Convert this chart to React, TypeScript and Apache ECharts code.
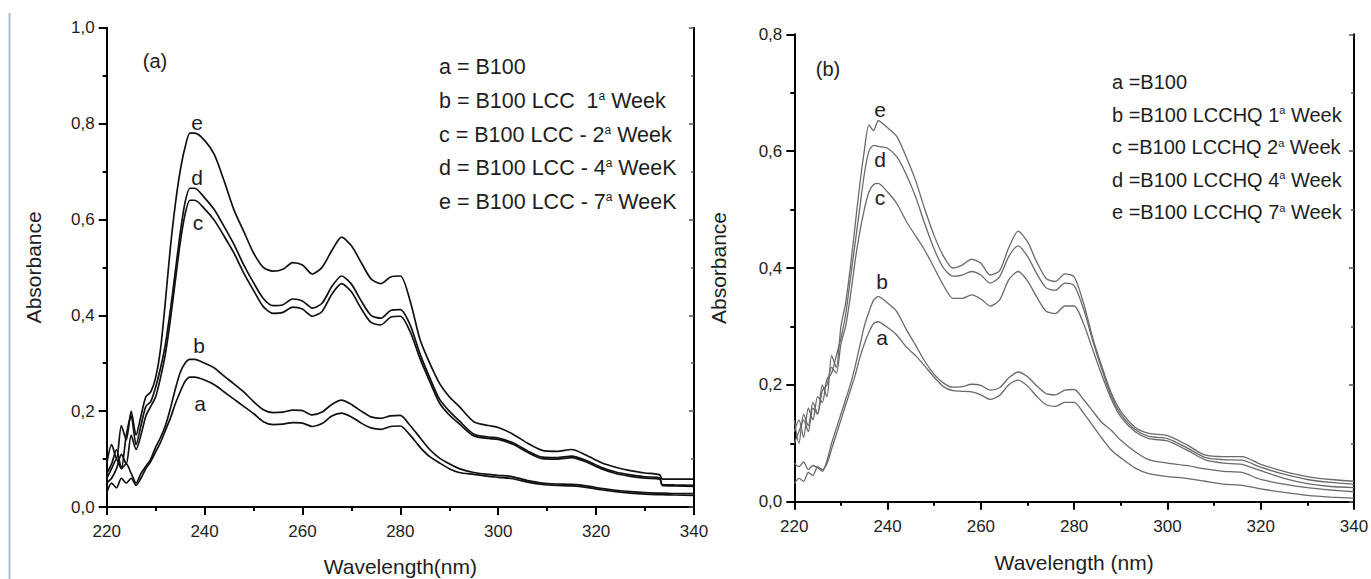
import React, { useEffect, useRef } from "react";
import * as echarts from "echarts";

// ---------- Panel (a) data ----------
const WL_A = [220,221,222,223,224,225,226,227,228,229,230,231,232,233,234,235,236,237,238,240,242,244,246,248,250,252,254,256,258,260,262,264,266,268,270,272,274,276,278,280,282,284,286,288,290,292,295,298,300,303,306,309,312,315,318,321,324,327,330,333,333.5,336,340];
const A_a = [0.03,0.05,0.04,0.06,0.05,0.06,0.045,0.06,0.08,0.095,0.115,0.135,0.16,0.185,0.215,0.24,0.262,0.271,0.271,0.265,0.255,0.24,0.225,0.21,0.195,0.178,0.172,0.173,0.176,0.175,0.168,0.174,0.19,0.196,0.188,0.175,0.165,0.162,0.168,0.169,0.15,0.125,0.105,0.092,0.08,0.072,0.068,0.064,0.062,0.059,0.052,0.047,0.045,0.044,0.041,0.036,0.032,0.029,0.027,0.026,0.026,0.025,0.024];
const A_b = [0.06,0.08,0.1,0.08,0.09,0.07,0.05,0.07,0.085,0.1,0.125,0.145,0.17,0.205,0.245,0.28,0.3,0.308,0.308,0.3,0.29,0.273,0.257,0.24,0.22,0.203,0.197,0.198,0.202,0.201,0.192,0.198,0.214,0.223,0.214,0.2,0.188,0.185,0.19,0.191,0.17,0.145,0.12,0.102,0.09,0.08,0.072,0.068,0.066,0.063,0.055,0.05,0.048,0.047,0.044,0.039,0.035,0.032,0.03,0.029,0.029,0.028,0.028];
const A_c = [0.05,0.06,0.08,0.11,0.09,0.15,0.12,0.15,0.19,0.21,0.23,0.27,0.32,0.39,0.47,0.55,0.61,0.64,0.64,0.622,0.598,0.565,0.53,0.488,0.452,0.418,0.404,0.406,0.417,0.413,0.398,0.408,0.444,0.466,0.449,0.414,0.385,0.38,0.396,0.398,0.366,0.31,0.262,0.217,0.192,0.174,0.148,0.143,0.141,0.131,0.114,0.101,0.1,0.103,0.094,0.08,0.07,0.064,0.06,0.058,0.045,0.044,0.043];
const A_d = [0.07,0.09,0.12,0.08,0.15,0.19,0.13,0.17,0.21,0.22,0.25,0.29,0.34,0.41,0.49,0.57,0.635,0.665,0.665,0.645,0.62,0.585,0.548,0.505,0.468,0.435,0.42,0.422,0.434,0.43,0.415,0.425,0.46,0.482,0.465,0.43,0.4,0.394,0.41,0.412,0.38,0.32,0.27,0.225,0.2,0.18,0.152,0.146,0.144,0.134,0.117,0.104,0.103,0.106,0.097,0.083,0.073,0.067,0.063,0.061,0.047,0.046,0.045];
const A_e = [0.09,0.13,0.1,0.17,0.14,0.2,0.15,0.19,0.23,0.24,0.27,0.33,0.43,0.54,0.63,0.7,0.75,0.78,0.78,0.765,0.735,0.68,0.62,0.575,0.53,0.5,0.492,0.496,0.51,0.505,0.486,0.5,0.535,0.563,0.545,0.51,0.476,0.466,0.48,0.482,0.43,0.35,0.3,0.258,0.23,0.21,0.178,0.17,0.166,0.152,0.133,0.118,0.116,0.12,0.108,0.093,0.083,0.076,0.071,0.067,0.058,0.058,0.058];

// ---------- Panel (b) data ----------
const WL_B = [220,221,222,223,224,225,226,227,228,229,230,231,232,233,234,235,236,237,238,240,242,244,246,248,250,252,254,256,258,260,262,264,266,268,270,272,274,276,278,280,282,284,286,288,290,293,296,300,304,308,312,316,320,325,330,335,340];
const B_a = [0.031,0.04,0.035,0.05,0.045,0.06,0.055,0.065,0.09,0.115,0.14,0.165,0.19,0.215,0.245,0.27,0.29,0.305,0.308,0.298,0.285,0.265,0.25,0.232,0.213,0.197,0.19,0.189,0.188,0.183,0.175,0.182,0.2,0.208,0.198,0.18,0.166,0.163,0.17,0.17,0.152,0.13,0.108,0.088,0.075,0.058,0.048,0.043,0.04,0.035,0.03,0.028,0.022,0.016,0.011,0.008,0.006];
const B_b = [0.066,0.06,0.068,0.055,0.062,0.058,0.052,0.07,0.1,0.125,0.15,0.175,0.2,0.23,0.265,0.3,0.325,0.345,0.351,0.34,0.325,0.295,0.268,0.24,0.218,0.203,0.196,0.197,0.201,0.199,0.191,0.195,0.212,0.222,0.214,0.198,0.185,0.183,0.191,0.192,0.175,0.155,0.135,0.122,0.105,0.086,0.072,0.066,0.062,0.056,0.052,0.05,0.038,0.03,0.024,0.02,0.017];
const B_c = [0.1,0.12,0.14,0.12,0.16,0.15,0.19,0.2,0.23,0.22,0.27,0.3,0.35,0.41,0.46,0.5,0.53,0.543,0.545,0.53,0.51,0.48,0.455,0.43,0.4,0.37,0.348,0.348,0.354,0.347,0.335,0.345,0.38,0.394,0.378,0.35,0.326,0.322,0.335,0.335,0.305,0.26,0.215,0.175,0.145,0.12,0.108,0.104,0.089,0.072,0.066,0.064,0.053,0.04,0.031,0.026,0.024];
const B_d = [0.12,0.14,0.11,0.16,0.14,0.18,0.17,0.21,0.22,0.25,0.28,0.32,0.38,0.44,0.5,0.56,0.6,0.61,0.608,0.605,0.59,0.56,0.522,0.475,0.432,0.4,0.386,0.388,0.394,0.388,0.374,0.385,0.42,0.438,0.42,0.39,0.366,0.362,0.374,0.37,0.33,0.275,0.225,0.18,0.15,0.124,0.112,0.108,0.093,0.076,0.072,0.071,0.059,0.047,0.038,0.033,0.03];
const B_e = [0.14,0.1,0.15,0.13,0.17,0.15,0.2,0.18,0.25,0.23,0.3,0.34,0.4,0.47,0.54,0.6,0.645,0.635,0.652,0.64,0.625,0.59,0.55,0.5,0.455,0.42,0.4,0.405,0.415,0.408,0.388,0.395,0.435,0.463,0.445,0.41,0.382,0.377,0.39,0.385,0.34,0.28,0.23,0.185,0.155,0.128,0.117,0.113,0.098,0.08,0.077,0.077,0.064,0.052,0.043,0.038,0.035];

const LEGEND_A = [
  "a = B100",
  "b = B100 LCC  1{s|a} Week",
  "c = B100 LCC - 2{s|a} Week",
  "d = B100 LCC - 4{s|a} WeeK",
  "e = B100 LCC - 7{s|a} WeeK",
];
const LEGEND_B = [
  "a =B100",
  "b =B100 LCCHQ 1{s|a} Week",
  "c =B100 LCCHQ 2{s|a} Week",
  "d =B100 LCCHQ 4{s|a} Week",
  "e =B100 LCCHQ 7{s|a} Week",
];
const CURVE_NAMES = ["a", "b", "c", "d", "e"];

const FONT = "Liberation Sans, Arial, Helvetica, sans-serif";
const TXT = "#1e1e1e";

function zip(xs: number[], ys: number[]) {
  return xs.map((x, i) => [x, ys[i]]);
}

const comma = (v: number) => v.toFixed(1).replace(".", ",");

function xAxisMain(gridIndex: number, name: string, nameGap: number) {
  return {
    type: "value",
    gridIndex,
    min: 220,
    max: 340,
    interval: 20,
    name,
    nameLocation: "middle",
    nameGap,
    nameTextStyle: { fontSize: 21, fontFamily: FONT, color: TXT },
    axisLine: { show: true, lineStyle: { color: "#000", width: 2 } },
    axisTick: { show: true, inside: false, length: 8, lineStyle: { color: "#000", width: 2 } },
    minorTick: { show: true, splitNumber: 2, length: 4, lineStyle: { color: "#000", width: 2 } },
    axisLabel: { fontSize: 17, fontFamily: FONT, color: TXT, margin: 16 },
    splitLine: { show: false },
  };
}
function xAxisTop(gridIndex: number) {
  return {
    type: "value",
    gridIndex,
    position: "top",
    min: 220,
    max: 340,
    interval: 20,
    axisLine: { show: true, lineStyle: { color: "#000", width: 2 } },
    axisTick: { show: false },
    axisLabel: { show: false },
    splitLine: { show: false },
  };
}
function yAxisMain(gridIndex: number, max: number, nameGap: number) {
  return {
    type: "value",
    gridIndex,
    min: 0,
    max,
    interval: 0.2,
    name: "Absorbance",
    nameLocation: "middle",
    nameGap,
    nameRotate: 90,
    nameTextStyle: { fontSize: 21, fontFamily: FONT, color: TXT },
    axisLine: { show: true, lineStyle: { color: "#000", width: 2 } },
    axisTick: { show: true, inside: false, length: 8, lineStyle: { color: "#000", width: 2 } },
    minorTick: { show: true, splitNumber: 2, length: 4, lineStyle: { color: "#000", width: 2 } },
    axisLabel: { fontSize: 17, fontFamily: FONT, color: TXT, margin: 12, formatter: comma },
    splitLine: { show: false },
  };
}
function yAxisRight(gridIndex: number, max: number) {
  return {
    type: "value",
    gridIndex,
    position: "right",
    min: 0,
    max,
    interval: 0.2,
    axisLine: { show: true, lineStyle: { color: "#000", width: 2 } },
    axisTick: { show: true, inside: true, length: 5, lineStyle: { color: "#555", width: 1.5 } },
    minorTick: { show: true, splitNumber: 2, length: 3, lineStyle: { color: "#555", width: 1.5 } },
    axisLabel: { show: false },
    splitLine: { show: false },
  };
}

function legendTexts(lines: string[], x: number, y0: number, dy: number, size: number) {
  return lines.map((t, i) => ({
    type: "text",
    x,
    y: y0 + i * dy,
    style: {
      text: t,
      fill: TXT,
      fontSize: size,
      fontFamily: FONT,
      align: "left",
      verticalAlign: "middle",
      rich: { s: { fontSize: Math.round(size * 0.55), fontFamily: FONT, fill: TXT, verticalAlign: "top" } },
    },
  }));
}

function label(text: string, x: number, y: number, size = 20) {
  return {
    type: "text",
    x,
    y,
    style: { text, fill: TXT, fontSize: size, fontFamily: FONT, align: "center", verticalAlign: "middle" },
  };
}

export default function App() {
  const ref = useRef<HTMLDivElement>(null);
  useEffect(() => {
    if (!ref.current) return;
    const chart = echarts.init(ref.current, undefined, { renderer: "svg" });
    const seriesA = [A_a, A_b, A_c, A_d, A_e].map((vals, i) => ({
      type: "line",
      name: "a-" + CURVE_NAMES[i],
      xAxisIndex: 0,
      yAxisIndex: 0,
      data: zip(WL_A, vals),
      showSymbol: false,
      symbol: "none",
      smooth: 0.25,
      lineStyle: { color: "#111", width: 1.7 },
      silent: true,
    }));
    const seriesB = [B_a, B_b, B_c, B_d, B_e].map((vals, i) => ({
      type: "line",
      name: "b-" + CURVE_NAMES[i],
      xAxisIndex: 2,
      yAxisIndex: 2,
      data: zip(WL_B, vals),
      showSymbol: false,
      symbol: "none",
      smooth: 0.25,
      lineStyle: { color: "#6a6a6a", width: 1.3 },
      silent: true,
    }));
    chart.setOption({
      animation: false,
      backgroundColor: "#fff",
      grid: [
        { left: 106.7, top: 27.7, width: 587.3, height: 479.3, containLabel: false, outerBoundsMode: "none" },
        { left: 794.3, top: 34.3, width: 559.7, height: 467.4, containLabel: false, outerBoundsMode: "none" },
      ],
      xAxis: [
        xAxisMain(0, "Wavelength(nm)", 49),
        xAxisTop(0),
        xAxisMain(1, "Wavelength (nm)", 50),
        xAxisTop(1),
      ],
      yAxis: [
        yAxisMain(0, 1.0, 63),
        yAxisRight(0, 1.0),
        yAxisMain(1, 0.8, 65),
        yAxisRight(1, 0.8),
      ],
      series: [...seriesA, ...seriesB],
      graphic: [
        {
          type: "line",
          shape: { x1: 9.5, y1: 13, x2: 9.5, y2: 579 },
          style: { stroke: "#a9bcd2", lineWidth: 2 },
        },
        label("(a)", 155, 61),
        label("(b)", 828, 69),
        label("e", 197, 122, 21),
        label("d", 197, 177, 21),
        label("c", 198, 222, 21),
        label("b", 199, 345, 21),
        label("a", 200, 403, 21),
        label("e", 880, 109, 21),
        label("d", 880, 159, 21),
        label("c", 880, 197, 21),
        label("b", 882, 281, 21),
        label("a", 882, 337, 21),
        ...legendTexts(LEGEND_A, 439, 67, 33.8, 21.5),
        ...legendTexts(LEGEND_B, 1112, 82, 32.5, 20),
      ],
    });
    return () => chart.dispose();
  }, []);
  return (
    <div
      ref={ref}
      style={{ position: "fixed", left: 0, top: 0, width: 1371, height: 579, background: "#fff" }}
    />
  );
}
